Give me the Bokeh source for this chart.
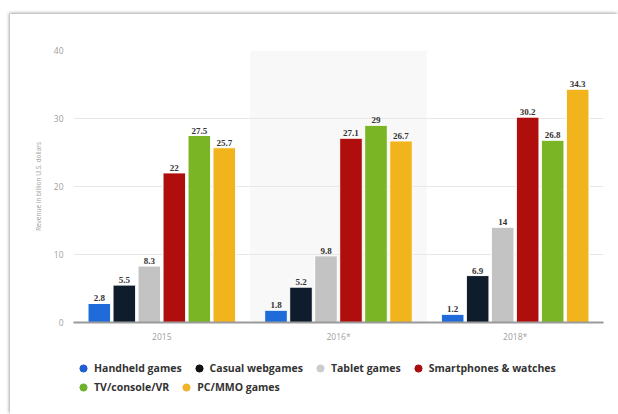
from bokeh.plotting import figure
from bokeh.layouts import column
from bokeh.models import (ColumnDataSource, LabelSet, Legend, LegendItem, BoxAnnotation,
                          Range1d, FactorRange, FixedTicker)
from bokeh.transform import dodge
from bokeh.embed import file_html
from bokeh.resources import INLINE

categories = ["2015", "2016*", "2018*"]
series_names = ["Handheld games", "Casual webgames", "Tablet games",
                "Smartphones & watches", "TV/console/VR", "PC/MMO games"]
handheld = [2.8, 1.8, 1.2]
casual_webgames = [5.5, 5.2, 6.9]
tablet = [8.3, 9.8, 14]
smartphones_watches = [22, 27.1, 30.2]
tv_console_vr = [27.5, 29, 26.8]
pc_mmo = [25.7, 26.7, 34.3]
y_ticks = [0, 10, 20, 30, 40]

series_values = [handheld, casual_webgames, tablet, smartphones_watches, tv_console_vr, pc_mmo]
bar_colors = ["#1e6bd9", "#0f1c2c", "#c3c3c3", "#b00d0d", "#7ab526", "#f1b41c"]
dot_colors = ["#1f5fd0", "#111111", "#cccccc", "#a80d0d", "#6db22a", "#f0b429"]

FONT = "Open Sans"

# ---------------- main chart ----------------
p = figure(x_range=FactorRange(*categories), y_range=Range1d(0, 40),
           frame_width=530, frame_height=272, output_backend="svg", toolbar_location=None,
           min_border_left=63, min_border_right=15, min_border_top=36, min_border_bottom=24)
p.background_fill_color = "white"
p.border_fill_color = "white"
p.outline_line_color = None

band = BoxAnnotation(left=1, right=2, bottom=0, fill_color="#f8f8f8", fill_alpha=1,
                     line_alpha=0, level="image")
p.add_layout(band)

pitch = 0.1415
bar_w = 0.128


def fmt(v):
    return str(int(v)) if float(v).is_integer() else str(v)


for i, (vals, col) in enumerate(zip(series_values, bar_colors)):
    off = (i - 2.5) * pitch
    src = ColumnDataSource(dict(cat=categories, val=vals, lab=[fmt(v) for v in vals]))
    p.vbar(x=dodge("cat", off, range=p.x_range), top="val", width=bar_w, source=src,
           fill_color=col, line_color="white", line_width=1)
    labels = LabelSet(x=dodge("cat", off, range=p.x_range), y="val", text="lab", source=src,
                      text_align="center", text_baseline="bottom", y_offset=2,
                      text_font_size="9px", text_font_style="bold", text_color="#333333",
                      text_font=FONT)
    p.add_layout(labels)

p.ygrid.grid_line_color = "#e8e8e8"
p.xgrid.grid_line_color = None
p.yaxis.ticker = FixedTicker(ticks=y_ticks)

p.yaxis.axis_line_color = None
p.yaxis.major_tick_line_color = None
p.yaxis.major_tick_out = 0
p.yaxis.minor_tick_line_color = None
p.yaxis.major_label_text_color = "#a0a0a0"
p.yaxis.major_label_text_font_size = "8.5px"
p.yaxis.major_label_text_font = FONT
p.yaxis.major_label_standoff = 10
p.yaxis.axis_label = "Revenue in billion U.S. dollars"
p.yaxis.axis_label_text_font_size = "6.5px"
p.yaxis.axis_label_text_font_style = "normal"
p.yaxis.axis_label_text_color = "#a0a0a0"
p.yaxis.axis_label_text_font = FONT
p.yaxis.axis_label_standoff = 8

p.xaxis.axis_line_color = "#9a9a9a"
p.xaxis.axis_line_width = 2
p.xaxis.major_tick_line_color = None
p.xaxis.major_tick_out = 0
p.xaxis.minor_tick_line_color = None
p.xaxis.major_label_text_color = "#a0a0a0"
p.xaxis.major_label_text_font_size = "8.5px"
p.xaxis.major_label_text_font = FONT
p.xaxis.major_label_standoff = 8

# ---------------- legend strip ----------------
lp = figure(width=608, height=68, x_range=Range1d(0, 1), y_range=Range1d(0, 1),
            output_backend="svg", toolbar_location=None,
            x_axis_location=None, y_axis_location=None,
            min_border=0, min_border_left=0, min_border_right=0,
            min_border_top=0, min_border_bottom=0)
lp.background_fill_color = "white"
lp.border_fill_color = "white"
lp.outline_line_color = None
lp.xgrid.visible = False
lp.ygrid.visible = False

items = []
for name, col in zip(series_names, dot_colors):
    # one hidden point (outside the visible range) so the legend can draw its dot
    r = lp.scatter(x=[-5], y=[-5], size=8, fill_color=col, line_color=col)
    items.append(LegendItem(label=name, renderers=[r]))

legend_style = dict(orientation="horizontal",
                    label_text_font_size="10.5px", label_text_font_style="bold",
                    label_text_color="#333333", label_text_font=FONT,
                    glyph_width=18, glyph_height=18, label_height=18, label_standoff=2,
                    spacing=8, padding=0, margin=0,
                    border_line_alpha=0, background_fill_alpha=0)
legend1 = Legend(items=items[:4], location=(1, 37), **legend_style)
legend2 = Legend(items=items[4:], location=(1, 18), **legend_style)
lp.add_layout(legend1, "center")
lp.add_layout(legend2, "center")

layout = column(p, lp, spacing=0)
layout.margin = (14, 0, 0, 10)
layout.styles = {"box-shadow": "-1px -1px 3px rgba(0,0,0,0.35)", "background-color": "white"}

open("out.html", "w").write(file_html(layout, INLINE))
